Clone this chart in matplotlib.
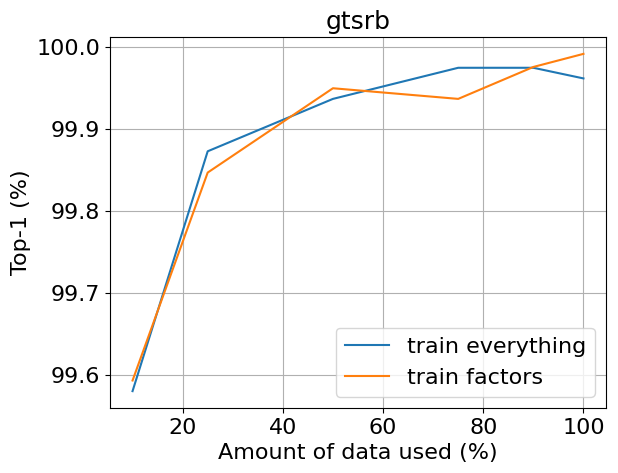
import matplotlib
matplotlib.use("Agg")
import matplotlib.pyplot as plt

x = [10, 25, 50, 75, 90, 100]
train_everything = [99.580, 99.873, 99.937, 99.975, 99.975, 99.962]
train_factors = [99.593, 99.847, 99.950, 99.937, 99.976, 99.992]

plt.rcParams['font.size'] = 16
fig = plt.figure(figsize=(6.18, 4.73), dpi=100)
ax = fig.add_axes([110/618, 1-408/473, (606-110)/618, (408-37)/473])
ax.plot(x, train_everything, label="train everything")
ax.plot(x, train_factors, label="train factors")
ax.set_title("gtsrb", fontsize=18)
ax.set_xlabel("Amount of data used (%)")
ax.set_ylabel("Top-1 (%)")
ax.grid(True)
ax.legend(loc="lower right")
fig.savefig("out.png", dpi=100)
